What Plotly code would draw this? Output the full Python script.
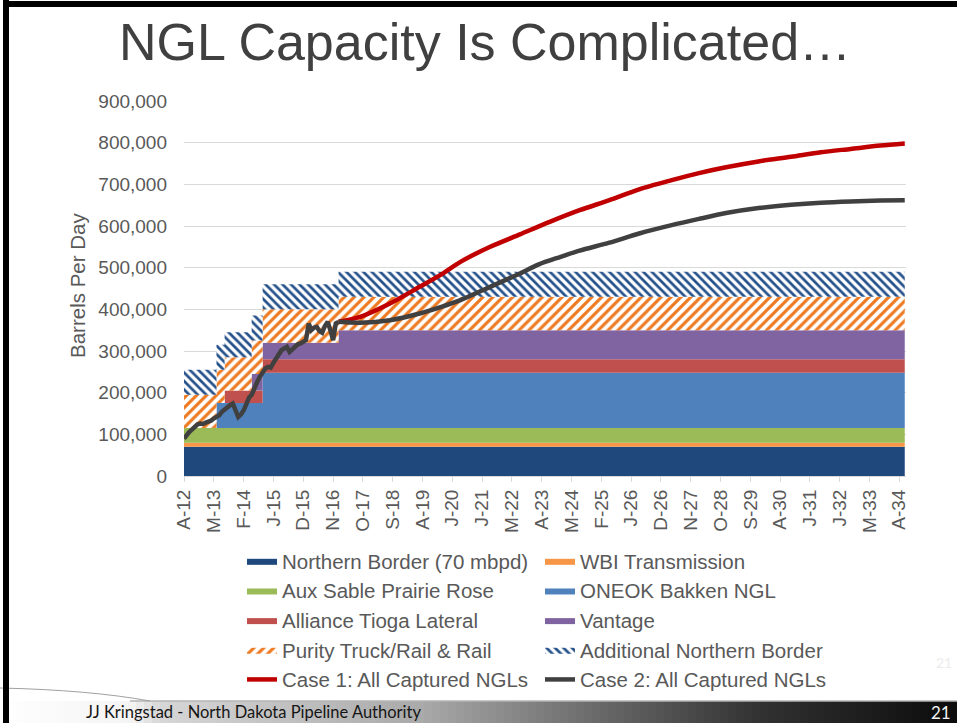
import plotly.graph_objects as go
import pandas as pd

# ---------------- data ----------------
# capacity step changes (barrels per day)
cap_dates = ["2012-04-01", "2013-04-01", "2013-07-01", "2014-05-01", "2014-09-01", "2017-01-01", "2034-06-01"]
northern_border = [70000, 70000, 70000, 70000, 70000, 70000, 70000]
wbi_transmission = [10000, 10000, 10000, 10000, 10000, 10000, 10000]
aux_sable = [35000, 35000, 35000, 35000, 35000, 35000, 35000]
oneok_bakken = [0, 60000, 60000, 60000, 133000, 133000, 133000]
alliance_tioga = [0, 0, 30000, 30000, 32000, 32000, 32000]
vantage = [0, 0, 0, 40000, 40000, 70000, 70000]
purity_truck_rail = [80000, 80000, 80000, 80000, 80000, 80000, 80000]
additional_nb = [60000, 60000, 60000, 60000, 60000, 60000, 60000]

# historical captured NGLs, monthly from Apr 2012
hist_start = "2012-04-01"
hist_values = [90000, 100000, 106000, 112000, 120000, 124000, 126000, 125000, 128000, 130000,
               133000, 138000, 142000, 146000, 154000, 160000, 166000, 170000, 174000, 160000,
               142000, 148000, 158000, 172000, 188000, 195000, 214000, 225000, 238000, 248000,
               258000, 262000, 260000, 272000, 282000, 292000, 302000, 306000, 310000, 298000,
               305000, 312000, 316000, 318000, 322000, 326000, 366000, 350000, 356000, 358000,
               348000, 344000, 360000, 370000, 350000, 326000, 366000, 370000]

case1_dates = ["2017-01-01", "2017-09-01", "2018-08-01", "2019-07-01", "2020-03-01", "2020-10-01",
               "2021-09-01", "2022-08-01", "2023-07-01", "2024-06-01", "2025-05-01", "2026-04-01",
               "2027-04-01", "2028-02-01", "2028-12-01", "2029-12-01", "2030-12-01", "2031-11-01",
               "2032-10-01", "2033-09-01", "2034-06-01"]
case1_values = [370000, 382000, 414000, 454000, 484000, 514000, 550000, 580000, 610000, 638000,
                662000, 688000, 710000, 727000, 741000, 755000, 766000, 777000, 785000, 793000, 798000]

case2_dates = ["2017-01-01", "2017-09-01", "2018-08-01", "2019-07-01", "2020-03-01", "2020-10-01",
               "2021-09-01", "2022-08-01", "2023-03-01", "2023-11-01", "2024-06-01", "2025-05-01",
               "2026-04-01", "2027-04-01", "2028-02-01", "2028-12-01", "2029-12-01", "2030-12-01",
               "2031-11-01", "2032-10-01", "2033-09-01", "2034-06-01"]
case2_values = [370000, 368000, 374000, 390000, 406000, 422000, 454000, 486000, 508000, 526000,
                541000, 560000, 582000, 602000, 617000, 631000, 643000, 651000, 656000, 659000,
                661000, 662000]

tick_dates = ["2012-04-01", "2013-03-01", "2014-02-01", "2015-01-01", "2015-12-01", "2016-11-01",
              "2017-10-01", "2018-09-01", "2019-08-01", "2020-07-01", "2021-06-01", "2022-05-01",
              "2023-04-01", "2024-03-01", "2025-02-01", "2026-01-01", "2026-12-01", "2027-11-01",
              "2028-10-01", "2029-09-01", "2030-08-01", "2031-07-01", "2032-06-01", "2033-05-01",
              "2034-04-01"]
tick_labels = ["A-12", "M-13", "F-14", "J-15", "D-15", "N-16", "O-17", "S-18", "A-19", "J-20",
               "J-21", "M-22", "A-23", "M-24", "F-25", "J-26", "D-26", "N-27", "O-28", "S-29",
               "A-30", "J-31", "J-32", "M-33", "A-34"]

hist_dates = pd.date_range(hist_start, periods=len(hist_values), freq="MS").strftime("%Y-%m-%d").tolist()

# ---------------- figure ----------------
W, H = 957, 723
L, R, T, B = 184, 906, 101, 476


def px(x):
    return (x - L) / (R - L)


def py(y):
    return (B - y) / (B - T)


FONT = "Liberation Sans, Arial, sans-serif"
TXT = "#595959"

fig = go.Figure()

solid_layers = [
    ("Northern Border (70 mbpd)", northern_border, "#1F497D"),
    ("WBI Transmission", wbi_transmission, "#F79646"),
    ("Aux Sable Prairie Rose", aux_sable, "#9BBB59"),
    ("ONEOK Bakken NGL", oneok_bakken, "#4F81BD"),
    ("Alliance Tioga Lateral", alliance_tioga, "#C0504D"),
    ("Vantage", vantage, "#8064A2"),
]
for name, vals, col in solid_layers:
    fig.add_trace(go.Scatter(
        x=cap_dates, y=vals, name=name, stackgroup="cap", mode="lines",
        line=dict(width=0, shape="hv", color=col), fillcolor=col,
    ))

fig.add_trace(go.Scatter(
    x=cap_dates, y=purity_truck_rail, name="Purity Truck/Rail & Rail", stackgroup="cap",
    mode="lines", line=dict(width=0, shape="hv", color="#EE7A22"), fillcolor="white",
    fillpattern=dict(shape="/", fgcolor="#EE7A22", bgcolor="white", fgopacity=1,
                     size=7, solidity=0.45, fillmode="replace"),
))
fig.add_trace(go.Scatter(
    x=cap_dates, y=additional_nb, name="Additional Northern Border", stackgroup="cap",
    mode="lines", line=dict(width=0, shape="hv", color="#24518A"), fillcolor="white",
    fillpattern=dict(shape="\\", fgcolor="#24518A", bgcolor="white", fgopacity=1,
                     size=6, solidity=0.45, fillmode="replace"),
))

fig.add_trace(go.Scatter(
    x=case1_dates, y=case1_values, name="Case 1: All Captured NGLs", mode="lines",
    line=dict(color="#C00000", width=4.5, shape="spline", smoothing=0.8),
))
fig.add_trace(go.Scatter(
    x=case2_dates, y=case2_values, name="Case 2: All Captured NGLs", mode="lines",
    line=dict(color="#404040", width=4.5, shape="spline", smoothing=0.8),
))
fig.add_trace(go.Scatter(
    x=hist_dates, y=hist_values, name="Historical", mode="lines", showlegend=False,
    line=dict(color="#404040", width=4.5),
))

# decorative slide frame / footer
shapes = []
stops = [(0, (255, 255, 255)), (130, (245, 245, 245)), (160, (215, 215, 215)), (420, (170, 170, 170)),
         (600, (105, 105, 105)), (760, (50, 50, 50)), (957, (12, 12, 12))]


def grad(x):
    for (x0, c0), (x1, c1) in zip(stops[:-1], stops[1:]):
        if x0 <= x <= x1:
            t = (x - x0) / (x1 - x0)
            return "rgb(%d,%d,%d)" % tuple(int(a + (b - a) * t) for a, b in zip(c0, c1))
    return "rgb(12,12,12)"


step = 8
for x0 in range(0, W, step):
    shapes.append(dict(type="rect", xref="paper", yref="paper",
                       x0=px(x0), x1=px(min(x0 + step + 1, W)), y0=py(723), y1=py(701),
                       fillcolor=grad(x0 + step / 2), line=dict(width=0), layer="above"))
shapes.append(dict(type="line", xref="paper", yref="paper", x0=px(130), x1=px(957), y0=py(701), y1=py(701),
                   line=dict(color="#b5b5b5", width=1.5), layer="above"))
shapes.append(dict(type="path", xref="paper", yref="paper",
                   path="M %f %f Q %f %f %f %f" % (px(0), py(688), px(90), py(690), px(150), py(701)),
                   line=dict(color="#a0a0a0", width=1), layer="above"))
# black border left & top
shapes.append(dict(type="rect", xref="paper", yref="paper", x0=px(3), x1=px(9), y0=py(723), y1=py(0),
                   fillcolor="black", line=dict(width=0), layer="above"))
shapes.append(dict(type="rect", xref="paper", yref="paper", x0=px(3), x1=px(957), y0=py(7), y1=py(1),
                   fillcolor="black", line=dict(width=0), layer="above"))

annotations = [
    dict(text="Barrels Per Day", xref="paper", yref="paper", x=px(77), y=py(286), textangle=-90,
         showarrow=False, font=dict(family=FONT, size=20.5, color=TXT), xanchor="center", yanchor="middle"),
    dict(text="JJ Kringstad - North Dakota Pipeline Authority", xref="paper", yref="paper",
         x=px(84), y=py(712), xanchor="left", yanchor="middle", showarrow=False,
         font=dict(family="Lato, Open Sans, sans-serif", size=16.5, color="#151515")),
    dict(text="21", xref="paper", yref="paper", x=px(941), y=py(712), xanchor="center", yanchor="middle",
         showarrow=False, font=dict(family="Lato, Open Sans, sans-serif", size=17, color="#f2f2f2")),
    dict(text="21", xref="paper", yref="paper", x=px(944), y=py(662), xanchor="center", yanchor="middle",
         showarrow=False, font=dict(family="Lato, Open Sans, sans-serif", size=14, color="#ececec")),
]

fig.update_layout(
    width=W, height=H,
    margin=dict(l=L, r=W - R, t=T, b=H - B, pad=0),
    paper_bgcolor="white", plot_bgcolor="white",
    title=dict(text="NGL Capacity Is Complicated…", x=485 / W, xanchor="center",
               y=1 - 42 / H, yanchor="middle",
               font=dict(family=FONT, size=52, color="#404040")),
    font=dict(family=FONT, color=TXT),
    showlegend=True,
    legend=dict(orientation="h", x=px(242), xanchor="left", y=py(541), yanchor="top",
                entrywidth=253, entrywidthmode="pixels", itemwidth=30,
                font=dict(family=FONT, size=20.5, color=TXT), traceorder="normal",
                bgcolor="rgba(0,0,0,0)", tracegroupgap=0),
    shapes=shapes,
    annotations=annotations,
)

fig.update_xaxes(
    type="date", range=["2012-04-01", "2034-06-15"],
    tickmode="array", tickvals=tick_dates, ticktext=tick_labels, tickangle=-90,
    tickfont=dict(family=FONT, size=19, color=TXT),
    showgrid=False, showline=True, linecolor="#D9D9D9", linewidth=1,
    ticks="outside", ticklen=5, tickcolor="#D9D9D9", zeroline=False,
)
fig.update_yaxes(
    range=[0, 900000], dtick=100000, tick0=0, tickformat=",d",
    tickfont=dict(family=FONT, size=19, color=TXT),
    showgrid=True, gridcolor="#D9D9D9", gridwidth=1, zeroline=False, showline=False,
    ticks="", ticklabelstandoff=16,
)

fig.write_html("out.html", config={"displayModeBar": False},
               post_script="document.body.style.margin='0';document.body.style.overflow='hidden';")
